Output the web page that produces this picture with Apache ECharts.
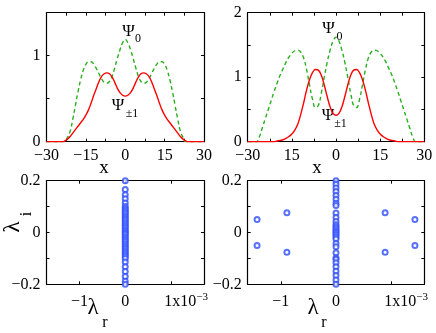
<!DOCTYPE html>
<html><head><meta charset="utf-8">
<script src="https://cdn.jsdelivr.net/npm/echarts@6/dist/echarts.min.js"></script>
<style>html,body{margin:0;padding:0;background:#fff}#c{width:436px;height:333px}</style>
</head><body><div id="c"></div>
<script>
// ---------- data ----------
const xGrid = [-30,-29,-28,-27,-26,-25,-24,-23,-22,-21,-20,-19,-18,-17,-16,-15,-14,-13,-12,-11,-10,-9,-8,-7,-6,-5,-4,-3,-2,-1,0,1,2,3,4,5,6,7,8,9,10,11,12,13,14,15,16,17,18,19,20,21,22,23,24,25,26,27,28,29,30];
// top-left panel
const psi0Left = [0,0,0,0,0,0,0,0,0.05,0.12,0.26,0.42,0.58,0.72,0.83,0.90,0.93,0.93,0.90,0.85,0.79,0.73,0.69,0.68,0.70,0.76,0.86,0.97,1.07,1.15,1.19,1.15,1.07,0.97,0.86,0.76,0.70,0.68,0.69,0.73,0.79,0.85,0.90,0.93,0.93,0.90,0.83,0.72,0.58,0.42,0.26,0.12,0.05,0,0,0,0,0,0,0,0];
const psi1Left = [0,0,0,0,0,0,0,0.01,0.03,0.06,0.10,0.14,0.18,0.22,0.26,0.31,0.37,0.45,0.54,0.62,0.70,0.76,0.79,0.80,0.79,0.75,0.69,0.62,0.57,0.54,0.53,0.54,0.57,0.62,0.69,0.75,0.79,0.80,0.79,0.76,0.70,0.62,0.54,0.45,0.37,0.31,0.26,0.22,0.18,0.14,0.10,0.06,0.03,0.01,0,0,0,0,0,0,0];
// top-right panel
const psi0Right = [0,0,0,0,0.08,0.22,0.36,0.50,0.64,0.78,0.91,1.03,1.13,1.23,1.31,1.37,1.41,1.42,1.39,1.30,1.12,0.88,0.66,0.53,0.56,0.75,1.00,1.23,1.42,1.56,1.62,1.56,1.42,1.23,1.00,0.75,0.56,0.53,0.66,0.88,1.12,1.30,1.39,1.42,1.41,1.37,1.31,1.23,1.13,1.03,0.91,0.78,0.64,0.50,0.36,0.22,0.08,0,0,0,0];
const psi1Right = [0,0,0,0,0,0,0,0,0,0,0.01,0.02,0.03,0.05,0.08,0.12,0.18,0.27,0.42,0.60,0.80,0.96,1.07,1.12,1.11,1.03,0.88,0.70,0.54,0.44,0.41,0.44,0.54,0.70,0.88,1.03,1.11,1.12,1.07,0.96,0.80,0.60,0.42,0.27,0.18,0.12,0.08,0.05,0.03,0.02,0.01,0,0,0,0,0,0,0,0,0,0];
// bottom-left eigenvalues
const eigLeftIm = [0.2,0.166,0.146,0.13,0.114,0.1,0.093,0.086,0.079,0.072,0.065,0.058,0.051,0.044,0.037,0.030,0.023,0.016,0.009,0.003,-0.003,-0.009,-0.016,-0.023,-0.030,-0.037,-0.044,-0.051,-0.058,-0.065,-0.072,-0.079,-0.086,-0.093,-0.1,-0.114,-0.132,-0.151,-0.17,-0.188,-0.2];
const eigLeftRe = eigLeftIm.map(() => 0);
// bottom-right eigenvalues
const eigRightColIm = [0.2,0.186,0.172,0.158,0.143,0.128,0.113,0.104,0.075,0.058,0.042,0.030,0.022,0.015,0.008,0.002,-0.004,-0.011,-0.018,-0.025,-0.042,-0.055,-0.078,-0.098,-0.104,-0.117,-0.132,-0.150,-0.166,-0.183,-0.2];
const eigRightColRe = eigRightColIm.map(() => 0);
const eigRightOffRe = [-1.43e-3,-1.43e-3,-0.89e-3,-0.89e-3,0.89e-3,0.89e-3,1.43e-3,1.43e-3];
const eigRightOffIm = [0.05,-0.05,0.076,-0.076,0.076,-0.076,0.05,-0.05];
// tick labels
const topXTicks = [-30,-15,0,15,30];
const topXLabelsLeft = ['\u221230','\u221215','0','15','30'];
const topXLabelsRight = ['\u221230','15','0','15','30'];
const topYLabelsLeft = {0:'0',1:'1'};
const topYLabelsRight = {0:'0',1:'1',2:'2'};
const botYLabels = {'0.2':'0.2','0':'0','-0.2':'\u22120.2'};
const botXTicks = [-1e-3,0,1e-3];

// ---------- chart ----------
const FONT = '"Liberation Serif", "Times New Roman", serif';
const BLACK = '#000';
const grids = [
  {left:46.5, top:12.7, width:157.5, height:129},
  {left:247.7, top:12.7, width:176.6, height:129},
  {left:46.5, top:180.7, width:157.5, height:103.6},
  {left:247.7, top:180.7, width:176.6, height:103.6}
].map(g => Object.assign({outerBoundsMode:'none', containLabel:false, show:false}, g));

const tick = {show:true, inside:true, length:3, lineStyle:{color:BLACK, width:1}};
const line = {show:true, onZero:false, lineStyle:{color:BLACK, width:1.2}};
const lab = {color:BLACK, fontFamily:FONT, fontSize:16};

function topX(gi, labels){
  return {
    gridIndex:gi, type:'value', min:-30, max:30, interval:7.5, position:'bottom',
    axisLine:line, axisTick:tick, splitLine:{show:false},
    axisLabel:Object.assign({margin:6, showMinLabel:true, showMaxLabel:true,
      formatter:v => { const i = topXTicks.indexOf(v); return i>=0 ? labels[i] : ''; }}, lab)
  };
}
function mirrorX(gi, base){
  return Object.assign({}, base, {gridIndex:gi, position:'top', axisLabel:{show:false}});
}
function valY(gi, min, max, interval, labels){
  return {
    gridIndex:gi, type:'value', min:min, max:max, interval:interval, position:'left',
    axisLine:line, axisTick:tick, splitLine:{show:false},
    axisLabel:Object.assign({margin:6, showMinLabel:true, showMaxLabel:true,
      formatter:v => { const k = String(Math.round(v*10)/10); return labels[k] !== undefined ? labels[k] : ''; }}, lab)
  };
}
function mirrorY(gi, base){
  return Object.assign({}, base, {gridIndex:gi, position:'right', axisLabel:{show:false}});
}
function botX(gi, lim){
  return {
    gridIndex:gi, type:'value', min:-lim, max:lim, position:'bottom',
    axisLine:line, splitLine:{show:false},
    axisTick:Object.assign({customValues:botXTicks}, tick),
    axisLabel:Object.assign({margin:7, lineHeight:20, customValues:botXTicks,
      formatter:v => { const n = Math.round(v*1e3); if (n===1) return '{n|1x10}{s|\u22123}'; return n<0 ? '\u2212'+Math.abs(n) : String(n); },
      rich:{ n:{fontFamily:FONT, fontSize:16, color:BLACK, lineHeight:20, padding:[0,0,0,30]},
             s:{fontFamily:FONT, fontSize:11, color:BLACK, lineHeight:12, verticalAlign:'top'} }}, lab)
  };
}

const x0 = topX(0, topXLabelsLeft), x1 = topX(1, topXLabelsRight);
const x2 = botX(2, 1.72e-3), x3 = botX(3, 1.6e-3);
const y0 = valY(0, 0, 1.5, 0.5, topYLabelsLeft), y1 = valY(1, 0, 2, 0.5, topYLabelsRight);
const y2 = valY(2, -0.2, 0.2, 0.1, botYLabels), y3 = valY(3, -0.2, 0.2, 0.1, botYLabels);

const xAxes = [x0, x1, x2, x3, mirrorX(0,x0), mirrorX(1,x1), mirrorX(2,x2), mirrorX(3,x3)];
const yAxes = [y0, y1, y2, y3, mirrorY(0,y0), mirrorY(1,y1), mirrorY(2,y2), mirrorY(3,y3)];

const GREEN = '#28b01e', RED = '#ff0000', BLUE = '#2f4dff';
const pair = (a, b) => a.map((v, i) => [v, b[i]]);
function curve(ai, data, color, dashed){
  return {type:'line', xAxisIndex:ai, yAxisIndex:ai, data:data, symbol:'none', smooth:0.4,
    lineStyle:{color:color, width:1.4, type: dashed ? [4,3] : 'solid'}, silent:true, animation:false};
}
function dots(ai, data){
  return {type:'scatter', xAxisIndex:ai, yAxisIndex:ai, data:data, symbol:'emptyCircle', symbolSize:5,
    itemStyle:{color:BLUE, borderColor:BLUE, borderWidth:1}, silent:true, animation:false};
}

function txt(x, y, s, size, extra){
  return Object.assign({type:'text', x:x, y:y, silent:true,
    style:{text:s, fill:BLACK, font: size+'px "Liberation Serif", serif', align:'center', verticalAlign:'middle'}}, extra||{});
}

const option = {
  animation:false,
  backgroundColor:'#fff',
  textStyle:{fontFamily:FONT},
  grid:grids, xAxis:xAxes, yAxis:yAxes,
  series:[
    curve(0, pair(xGrid, psi0Left), GREEN, true),
    curve(0, pair(xGrid, psi1Left), RED, false),
    curve(1, pair(xGrid, psi0Right), GREEN, true),
    curve(1, pair(xGrid, psi1Right), RED, false),
    dots(2, pair(eigLeftRe, eigLeftIm)),
    dots(3, pair(eigRightColRe, eigRightColIm)),
    dots(3, pair(eigRightOffRe, eigRightOffIm))
  ],
  graphic:[
    txt(128.5, 32, '\u03A8', 17), txt(138, 39, '0', 12),
    txt(118, 106, '\u03A8', 17), txt(132, 113.5, '\u00B11', 12),
    txt(328.5, 29, '\u03A8', 17), txt(339.5, 37, '0', 12),
    txt(328, 116, '\u03A8', 17), txt(340.5, 124, '\u00B11', 12),
    txt(104, 168, 'x', 19), txt(317, 168, 'x', 19),
    txt(93, 308, '\u03BB', 23), txt(105, 323, 'r', 16),
    txt(313, 308, '\u03BB', 23), txt(324, 323, 'r', 16),
    txt(13, 227, '\u03BB', 23, {rotation:Math.PI/2}), txt(27, 214, 'i', 16, {rotation:Math.PI/2})
  ]
};
const chart = echarts.init(document.getElementById('c'), null, {renderer:'canvas'});
chart.setOption(option);
</script></body></html>
